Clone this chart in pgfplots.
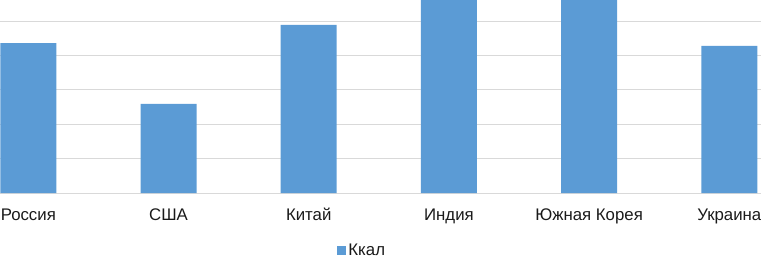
\documentclass[border=0pt]{standalone}
\usepackage{pgfplots}
\pgfplotsset{compat=1.18}
\usepackage{fontspec}
\setmainfont{Liberation Sans}
\definecolor{barblue}{HTML}{5B9BD5}
\definecolor{gridgray}{HTML}{D9D9D9}
\definecolor{txt}{HTML}{1A1A1A}
\begin{document}
\begin{tikzpicture}
\begin{axis}[
  name=ax,
  at={(0,0)}, anchor=south west,
  scale only axis,
  width=761pt, height=193pt,
  xmin=-0.202, xmax=5.226,
  ymin=0, ymax=5.61,
  enlargelimits=false,
  axis y line*=left,
  y axis line style={draw=none},
  yticklabels={},
  axis x line*=bottom,
  x axis line style={draw=gridgray, line width=0.8pt, -},
  ytick={1,2,3,4,5},
  ymajorgrids,
  major grid style={draw=gridgray, line width=0.8pt},
  xtick={0,1,2,3,4,5},
  xticklabels={Россия,США,Китай,Индия,Южная Корея,Украина},
  major tick length=0pt,
  tick style={draw=none},
  xticklabel style={font=\fontsize{16.8}{18}\selectfont, text=txt, anchor=base, yshift=-27pt},
  ybar, bar width=56pt,
  legend style={at={(0.476,0)}, anchor=north, yshift=-49pt, draw=none, fill=none,
    inner sep=0pt, font=\fontsize{16.8}{18}\selectfont, text=txt},
  legend image code/.code={\fill[barblue] (0pt,-4.5pt) rectangle (9pt,4.5pt);},
]
\addplot[fill=barblue, draw=none] coordinates {(0,4.36) (1,2.59) (2,4.89) (3,6) (4,6) (5,4.28)};
\addlegendentry{Ккал}
\end{axis}
\pgfresetboundingbox
\path[use as bounding box] (0pt,-65pt) rectangle (761pt,193pt);
\end{tikzpicture}
\end{document}
